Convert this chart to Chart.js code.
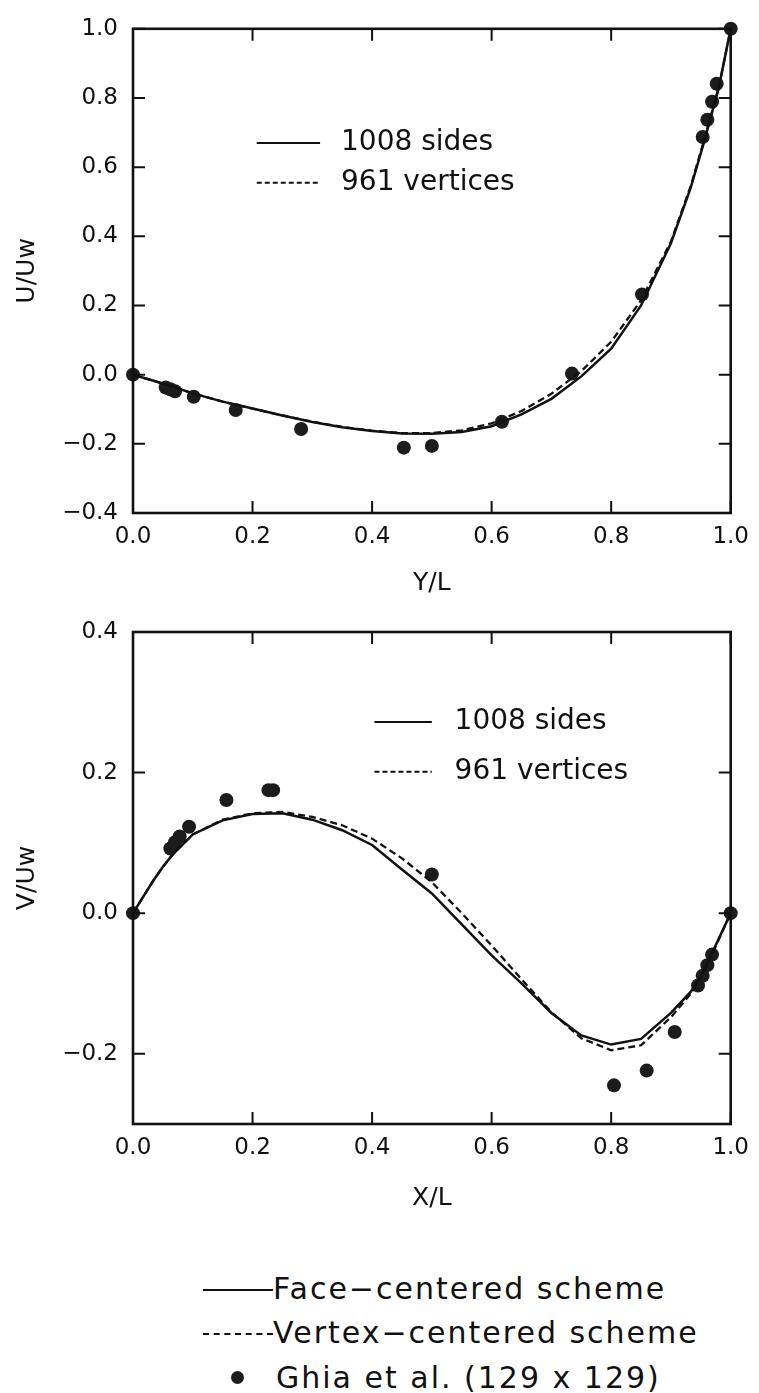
<!DOCTYPE html>
<html>
<head>
<meta charset="utf-8">
<script src="https://cdn.jsdelivr.net/npm/chart.js@4.4.1/dist/chart.umd.min.js"></script>
<style>
  body { margin:0; background:#fff; width:759px; height:1393px; position:relative; overflow:hidden;
         font-family:"DejaVu Sans", sans-serif; color:#111; }
  .box { position:absolute; left:0; width:759px; }
  #topBox { top:0; height:600px; }
  #botBox { top:600px; height:615px; }
  .key { position:absolute; left:203px; height:40px; display:flex; align-items:center;
         font-size:30px; letter-spacing:2px; white-space:nowrap; }
  .ln { width:70px; height:0; border-top:2px solid #111; margin-top:3px; }
  .ln.dash { border-top-style:dashed; }
  .dot { width:13px; height:13px; border-radius:50%; background:#1c1c1c; margin:0 32px 0 28px; }
</style>
</head>
<body>
<div class="box" id="topBox"><canvas id="uChart" width="759" height="600"></canvas></div>
<div class="box" id="botBox"><canvas id="vChart" width="759" height="615"></canvas></div>
<div class="key" style="top:1268px"><span class="ln"></span><span id="k0"></span></div>
<div class="key" style="top:1312px"><span class="ln dash"></span><span id="k1"></span></div>
<div class="key" style="top:1357px"><span class="dot"></span><span id="k2"></span></div>
<script>
// series names
var seriesNames = ['1008 sides', '961 vertices', 'Ghia et al. (129 x 129)'];
var keyNames = ['Face\u2212centered scheme', 'Vertex\u2212centered scheme', 'Ghia et al. (129 x 129)'];

// ticks
var posTicks = [0, 0.2, 0.4, 0.6, 0.8, 1.0];
var uTicks = [-0.4, -0.2, 0, 0.2, 0.4, 0.6, 0.8, 1.0];
var vTicks = [-0.2, 0, 0.2, 0.4];

// U along vertical centreline
var yPos    = [0, 0.033, 0.067, 0.1, 0.15, 0.2, 0.25, 0.3, 0.35, 0.4, 0.45, 0.5, 0.55, 0.6, 0.65, 0.7, 0.75, 0.8, 0.85, 0.9, 0.933, 0.955, 0.98, 1.0];
var uFace   = [0, -0.017, -0.035, -0.054, -0.078, -0.098, -0.118, -0.137, -0.152, -0.163, -0.170, -0.171, -0.166, -0.149, -0.115, -0.070, -0.005, 0.075, 0.20, 0.38, 0.54, 0.67, 0.83, 1.0];
var uVertex = [0, -0.017, -0.035, -0.054, -0.078, -0.098, -0.118, -0.136, -0.151, -0.162, -0.169, -0.169, -0.161, -0.141, -0.105, -0.055, 0.010, 0.095, 0.215, 0.385, 0.545, 0.675, 0.83, 1.0];

// V along horizontal centreline
var xPos    = [0, 0.033, 0.05, 0.067, 0.1, 0.15, 0.2, 0.25, 0.3, 0.35, 0.4, 0.45, 0.5, 0.55, 0.6, 0.65, 0.7, 0.75, 0.8, 0.85, 0.9, 0.933, 0.95, 0.967, 1.0];
var vFace   = [0, 0.045, 0.066, 0.084, 0.112, 0.132, 0.141, 0.142, 0.133, 0.118, 0.097, 0.062, 0.028, -0.016, -0.060, -0.100, -0.142, -0.174, -0.187, -0.179, -0.142, -0.112, -0.090, -0.060, 0];
var vVertex = [0, 0.045, 0.066, 0.084, 0.112, 0.133, 0.142, 0.144, 0.137, 0.125, 0.106, 0.078, 0.044, 0.000, -0.046, -0.094, -0.141, -0.178, -0.195, -0.188, -0.148, -0.115, -0.092, -0.062, 0];

// Ghia et al. points
var ghiaY = [0, 0.0547, 0.0625, 0.0703, 0.1016, 0.1719, 0.2813, 0.4531, 0.5, 0.6172, 0.7344, 0.8516, 0.9531, 0.9609, 0.9688, 0.9766, 1.0];
var ghiaU = [0, -0.037, -0.042, -0.048, -0.064, -0.102, -0.157, -0.211, -0.206, -0.136, 0.003, 0.232, 0.687, 0.737, 0.789, 0.841, 1.0];
var ghiaX = [0, 0.0625, 0.0703, 0.0781, 0.0938, 0.1563, 0.2266, 0.2344, 0.5, 0.8047, 0.8594, 0.9063, 0.9453, 0.9531, 0.9609, 0.9688, 1.0];
var ghiaV = [0, 0.092, 0.101, 0.109, 0.123, 0.161, 0.175, 0.175, 0.055, -0.245, -0.224, -0.169, -0.103, -0.089, -0.074, -0.059, 0];

for (var i = 0; i < 3; i++) document.getElementById('k' + i).textContent = keyNames[i];

Chart.defaults.font.family = '"DejaVu Sans", sans-serif';
Chart.defaults.font.size = 23;
Chart.defaults.color = '#111';

function pairs(xs, ys) {
  return xs.map(function (x, i) { return { x: x, y: ys[i] }; });
}
function fmt(v) {
  return Number(v).toFixed(1).replace('-', '\u2212');
}
function setTicks(list) {
  return function (s) { s.ticks = list.map(function (v) { return { value: v }; }); };
}

// frame, inward ticks and the little legend inside the plot
var frameTicks = {
  id: 'frameTicks',
  afterDatasetsDraw: function (chart, args, opts) {
    var ctx = chart.ctx, a = chart.chartArea, xs = chart.scales.x, ys = chart.scales.y;
    ctx.save();
    ctx.strokeStyle = '#111';
    ctx.lineWidth = 2.6;
    ctx.strokeRect(a.left, a.top, a.right - a.left, a.bottom - a.top);
    ctx.lineWidth = 2;
    ctx.beginPath();
    xs.ticks.forEach(function (t) {
      var px = xs.getPixelForValue(t.value);
      ctx.moveTo(px, a.bottom); ctx.lineTo(px, a.bottom - 12);
      ctx.moveTo(px, a.top); ctx.lineTo(px, a.top + 12);
    });
    ys.ticks.forEach(function (t) {
      var py = ys.getPixelForValue(t.value);
      ctx.moveTo(a.left, py); ctx.lineTo(a.left + 12, py);
      ctx.moveTo(a.right, py); ctx.lineTo(a.right - 12, py);
    });
    ctx.stroke();

    if (opts.key) {
      ctx.font = '28px "DejaVu Sans"';
      ctx.fillStyle = '#111';
      ctx.textBaseline = 'middle';
      ctx.textAlign = 'left';
      ctx.lineWidth = 2;
      for (var i = 0; i < 2; i++) {
        var py = ys.getPixelForValue(opts.rows[i]);
        ctx.setLineDash(i ? [5, 3] : []);
        ctx.beginPath();
        ctx.moveTo(xs.getPixelForValue(opts.key[0]), py);
        ctx.lineTo(xs.getPixelForValue(opts.key[1]), py);
        ctx.stroke();
        ctx.fillText(chart.data.datasets[i].label, xs.getPixelForValue(opts.key[2]), py);
      }
    }
    ctx.restore();
  }
};

function makeChart(id, pos, face, vertex, gx, gy, yMin, yMax, yTicks, xTitle, yTitle, pad, xH, key, rows) {
  return new Chart(document.getElementById(id), {
    type: 'scatter',
    data: {
      datasets: [
        { label: seriesNames[0], data: pairs(pos, face), showLine: true, borderColor: '#111',
          borderWidth: 2.5, pointRadius: 0, tension: 0 },
        { label: seriesNames[1], data: pairs(pos, vertex), showLine: true, borderColor: '#111',
          borderWidth: 2.3, borderDash: [7, 4], pointRadius: 0, tension: 0 },
        { label: seriesNames[2], data: pairs(gx, gy), showLine: false, pointRadius: 7,
          backgroundColor: '#1c1c1c', borderWidth: 0, clip: false }
      ]
    },
    options: {
      responsive: false,
      animation: false,
      layout: { padding: { top: pad, right: 22, left: 0, bottom: 0 } },
      plugins: {
        legend: { display: false },
        tooltip: { enabled: false },
        frameTicks: { key: key, rows: rows }
      },
      scales: {
        x: {
          type: 'linear', min: 0, max: 1,
          grid: { display: false, drawTicks: false }, border: { display: false },
          ticks: { padding: 10, callback: fmt },
          afterBuildTicks: setTicks(posTicks),
          afterFit: function (s) { s.height = xH; },
          title: { display: true, text: xTitle, font: { size: 25 }, padding: { top: 0, bottom: 2 } }
        },
        y: {
          type: 'linear', min: yMin, max: yMax,
          grid: { display: false, drawTicks: false }, border: { display: false },
          ticks: { padding: 15, callback: fmt },
          afterBuildTicks: setTicks(yTicks),
          afterFit: function (s) { s.width = 133; },
          title: { display: true, text: yTitle, font: { size: 25 }, padding: { top: 12, bottom: 0 } }
        }
      }
    },
    plugins: [frameTicks]
  });
}

makeChart('uChart', yPos, uFace, uVertex, ghiaY, ghiaU, -0.4, 1.0, uTicks, 'Y/L', 'U/Uw',
          25, 87, [0.207, 0.313, 0.348], [0.67, 0.555]);
makeChart('vChart', xPos, vFace, vVertex, ghiaX, ghiaV, -0.3, 0.4, vTicks, 'X/L', 'V/Uw',
          32, 91, [0.404, 0.5, 0.538], [0.272, 0.201]);
</script>
</body>
</html>
